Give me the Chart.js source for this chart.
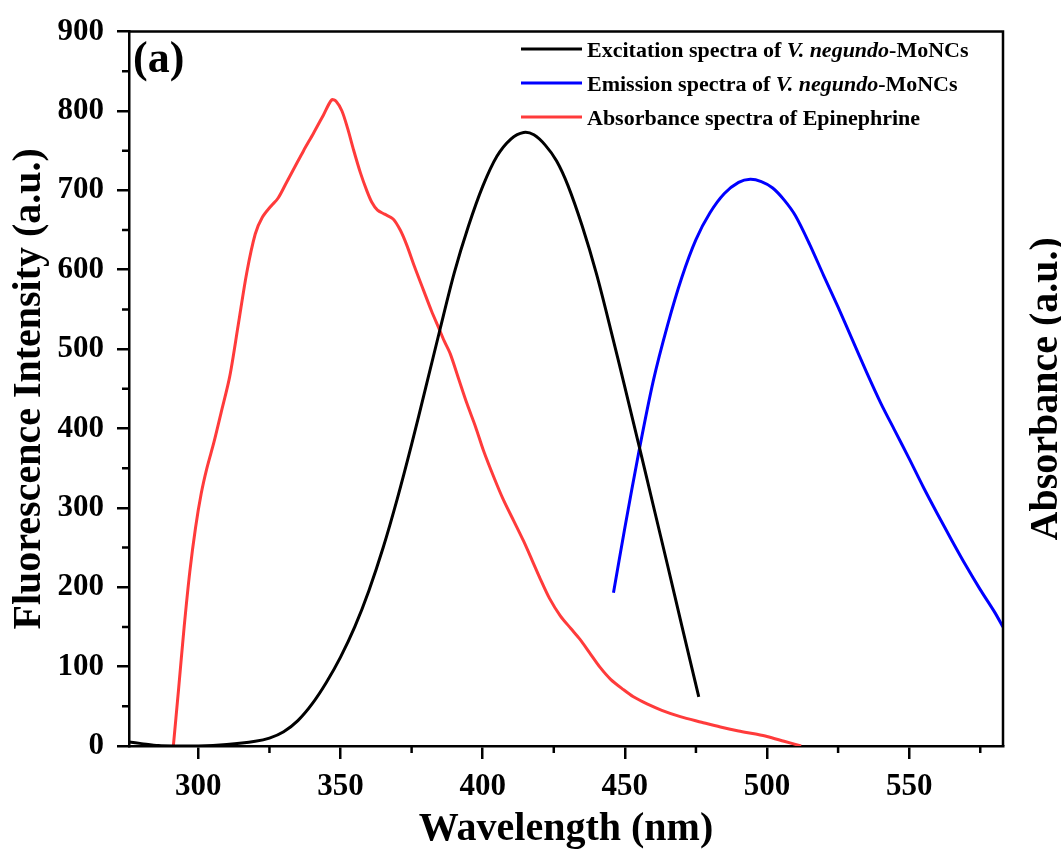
<!DOCTYPE html>
<html>
<head>
<meta charset="utf-8">
<script src="https://cdn.jsdelivr.net/npm/chart.js@4.4.1/dist/chart.umd.min.js"></script>
<style>
  html, body { margin: 0; padding: 0; background: #fff; }
</style>
</head>
<body>
<canvas id="graficoEspectros" width="1061" height="850"></canvas>
<script>
// wavelength (nm) / intensity pairs
const excitacaoX = [275.6, 280, 286, 292, 300, 310, 320, 325, 330, 335, 340, 345, 350, 355, 360, 365, 370, 375, 380, 385, 390, 395, 400, 405, 410, 414.4, 418, 422, 426, 430, 435, 440, 445, 450, 455, 460, 465, 470, 476];
const excitacaoY = [5, 3, 0.5, 0, 0, 2, 6, 10, 18, 32, 53, 80, 112, 150, 196, 250, 312, 380, 452, 525, 596, 655, 705, 743, 765, 773, 770, 757, 737, 706, 655, 595, 525, 452, 378, 303, 228, 152, 62];

const emissaoX = [446, 450, 455, 460, 465, 470, 475, 480, 485, 490, 494.1, 498, 502, 506, 510, 515, 520, 525, 530, 535, 540, 545, 550, 555, 560, 565, 570, 575, 580, 583];
const emissaoY = [193, 275, 372, 460, 530, 590, 638, 672, 696, 710, 714, 711, 703, 688, 668, 632, 592, 553, 512, 471, 432, 397, 362, 326, 292, 259, 227, 197, 169, 150];

const absorbanciaX = [291.2, 293, 295, 297, 299, 301, 303, 305.5, 308, 311, 314, 317, 320, 322.5, 325.5, 328, 331, 334, 337, 340.5, 344, 346.9, 348.5, 350.5, 352.5, 354.5, 357, 359.3, 361, 363, 365.5, 368.5, 371, 373.3, 376, 379.2, 382, 384.5, 386.5, 388.6, 391.5, 394.4, 397.5, 400.3, 404, 407.3, 411, 414.4, 417.5, 420.2, 423.5, 427.3, 431, 434.3, 437.5, 441.3, 445, 449.5, 453, 457.8, 463, 469.5, 477, 483.6, 490, 496, 500, 506, 512];
const absorbanciaY = [0, 70, 150, 220, 275, 318, 350, 383, 420, 465, 530, 596, 645, 666, 680, 690, 710, 730, 750, 772, 795, 814, 812, 800, 778, 752, 722, 699, 685, 675, 670, 664, 650, 631, 604, 574, 548, 527, 510, 494, 463, 432, 402, 372, 338, 310, 283, 258, 233, 211, 186, 164, 148, 134, 118, 99, 84, 71, 62, 53, 45, 37, 30, 24, 19, 15, 12, 6, 0];

const xTicks = [300, 350, 400, 450, 500, 550];
const xMinor = [325, 375, 425, 475, 525, 575];
const yTicks = [0, 100, 200, 300, 400, 500, 600, 700, 800, 900];
const yMinor = [50, 150, 250, 350, 450, 550, 650, 750, 850];

const legendas = [
    { cor: '#000000', partes: [['Excitation spectra of ', false], ['V. negundo', true], ['-MoNCs', false]] },
    { cor: '#0000ff', partes: [['Emission spectra of ', false], ['V. negundo', true], ['-MoNCs', false]] },
    { cor: '#ff3b3b', partes: [['Absorbance spectra of Epinephrine', false]] }
];

const fonte = '"Liberation Serif", "Times New Roman", serif';

const pares = (xs, ys) => xs.map((x, i) => ({ x: x, y: ys[i] }));

// frame, minor ticks, legend, right title and panel label
const extras = {
    id: 'extras',
    afterDraw(chart) {
        const ctx = chart.ctx;
        const area = chart.chartArea;
        const sx = chart.scales.x;
        const sy = chart.scales.y;
        ctx.save();
        ctx.strokeStyle = '#000';
        ctx.lineWidth = 2.5;
        ctx.beginPath();
        ctx.moveTo(area.left, area.top);
        ctx.lineTo(area.right, area.top);
        ctx.lineTo(area.right, area.bottom);
        ctx.stroke();

        ctx.beginPath();
        yMinor.forEach(v => {
            const py = sy.getPixelForValue(v);
            ctx.moveTo(area.left - 7, py);
            ctx.lineTo(area.left, py);
        });
        xMinor.forEach(v => {
            const px = sx.getPixelForValue(v);
            ctx.moveTo(px, area.bottom);
            ctx.lineTo(px, area.bottom + 7);
        });
        ctx.stroke();

        // legend
        ctx.fillStyle = '#000';
        ctx.textBaseline = 'alphabetic';
        legendas.forEach((item, i) => {
            const ly = 49 + i * 34;
            ctx.strokeStyle = item.cor;
            ctx.lineWidth = 3;
            ctx.beginPath();
            ctx.moveTo(521, ly);
            ctx.lineTo(582, ly);
            ctx.stroke();
            let tx = 587;
            item.partes.forEach(([texto, italico]) => {
                ctx.font = (italico ? 'italic ' : '') + 'bold 22px ' + fonte;
                ctx.fillText(texto, tx, ly + 8);
                tx += ctx.measureText(texto).width;
            });
        });

        ctx.font = 'bold 44px ' + fonte;
        ctx.fillText('(a)', 133, 72);

        ctx.font = 'bold 40px ' + fonte;
        ctx.textAlign = 'center';
        ctx.translate(1057, (area.top + area.bottom) / 2);
        ctx.rotate(-Math.PI / 2);
        ctx.fillText('Absorbance (a.u.)', 0, 0);
        ctx.restore();
    }
};

const ctx = document.getElementById('graficoEspectros').getContext('2d');

const grafico = new Chart(ctx, {
    type: 'line',
    data: {
        datasets: [
            { label: 'Excitation', data: pares(excitacaoX, excitacaoY), borderColor: '#000000', borderWidth: 3, pointRadius: 0, tension: 0.3 },
            { label: 'Emission', data: pares(emissaoX, emissaoY), borderColor: '#0000ff', borderWidth: 3, pointRadius: 0, tension: 0.3 },
            { label: 'Absorbance', data: pares(absorbanciaX, absorbanciaY), borderColor: '#ff3b3b', borderWidth: 3, pointRadius: 0, tension: 0.3 }
        ]
    },
    options: {
        responsive: false,
        animation: false,
        layout: { padding: { top: 25.5, right: 58, left: 0, bottom: 0 } },
        plugins: {
            legend: { display: false },
            tooltip: { enabled: false }
        },
        scales: {
            x: {
                type: 'linear',
                min: 275.6,
                max: 583,
                afterBuildTicks: s => { s.ticks = xTicks.map(v => ({ value: v })); },
                afterFit: s => { s.height = 104; },
                grid: { drawOnChartArea: false, drawTicks: true, tickLength: 13, color: '#000', lineWidth: 2.5 },
                border: { display: true, color: '#000', width: 2.5 },
                ticks: { color: '#000', padding: 9, maxRotation: 0, font: { family: fonte, size: 31, weight: 'bold' } },
                title: { display: true, text: 'Wavelength (nm)', color: '#000', padding: 0, font: { family: fonte, size: 40, weight: 'bold', lineHeight: 1 } }
            },
            y: {
                min: 0,
                max: 900,
                afterBuildTicks: s => { s.ticks = yTicks.map(v => ({ value: v })); },
                afterFit: s => { s.width = 129; },
                grid: { drawOnChartArea: false, drawTicks: true, tickLength: 12, color: '#000', lineWidth: 2.5 },
                border: { display: true, color: '#000', width: 2.5 },
                ticks: { color: '#000', padding: 13, font: { family: fonte, size: 31, weight: 'bold' } },
                title: { display: true, text: 'Fluorescence Intensity (a.u.)', color: '#000', padding: { top: 9.5, bottom: 0 }, font: { family: fonte, size: 40, weight: 'bold', lineHeight: 1 } }
            }
        }
    },
    plugins: [extras]
});
</script>
</body>
</html>
